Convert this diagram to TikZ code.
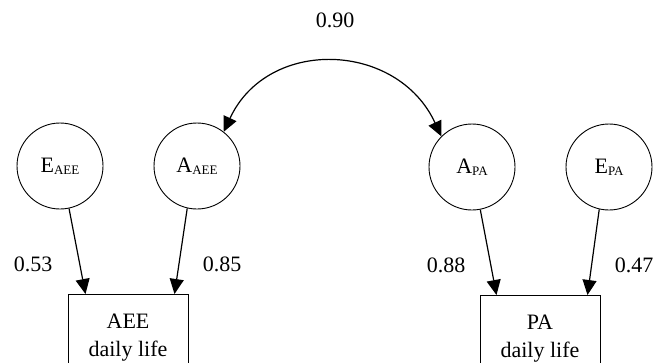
\documentclass[tikz,border=0pt]{standalone}
\usepackage{fontspec}
\setmainfont{Liberation Serif}
\usetikzlibrary{arrows.meta}

% latent variable with a small, lowered subscript
\newcommand{\latent}[2]{#1{\fontsize{13}{13}\selectfont\raisebox{-1.8pt}{#2}}}

\begin{document}
\begin{tikzpicture}[x=1pt,y=-1pt,
  font=\fontsize{22}{28}\selectfont,
  latentvar/.style={draw, circle, line width=0.9pt, minimum size=86pt, inner sep=0pt},
  observed/.style={draw, rectangle, line width=1pt, minimum width=120pt, minimum height=86pt,
    inner sep=0pt, align=center},
  tip/.tip={Triangle[length=15pt,width=14pt]},
  path/.style={line width=1.2pt, -tip},
  cov/.style={line width=1.2pt, tip-tip},
  coef/.style={inner sep=0pt}]
  \useasboundingbox (0,0) rectangle (671,362);
  \clip (0,0) rectangle (671,362);

  % latent factors
  \node[latentvar] (eaee) at (60,166)  {\latent{E}{AEE}};
  \node[latentvar] (aaee) at (197,166) {\latent{A}{AEE}};
  \node[latentvar] (apa)  at (472,167) {\latent{A}{PA}};
  \node[latentvar] (epa)  at (609,167) {\latent{E}{PA}};

  % observed measures (lower edge runs off the page)
  \node[observed, anchor=north] (aee) at (128,294) {AEE\\daily life};
  \node[observed, anchor=north] (pa)  at (540,295) {PA\\daily life};

  % loadings
  \draw[path] (eaee.-78)  -- ([xshift=18pt]aee.north west);
  \draw[path] (aaee.-103) -- ([xshift=-14pt]aee.north east);
  \draw[path] (apa.-79)   -- ([xshift=17pt]pa.north west);
  \draw[path] (epa.-103)  -- ([xshift=-13pt]pa.north east);

  % genetic correlation
  \draw[cov] (aaee.52) .. controls +(44,-95) and +(-44,-95) .. (apa.135);

  % coefficients
  \node[coef] (c1) at (33,264)  {0.53};
  \node[coef] (c2) at (222,264) {0.85};
  \node[coef] (c3) at (446,265) {0.88};
  \node[coef] (c4) at (634,265) {0.47};
  \node[coef] (c5) at (335,20)  {0.90};
\end{tikzpicture}
\end{document}
